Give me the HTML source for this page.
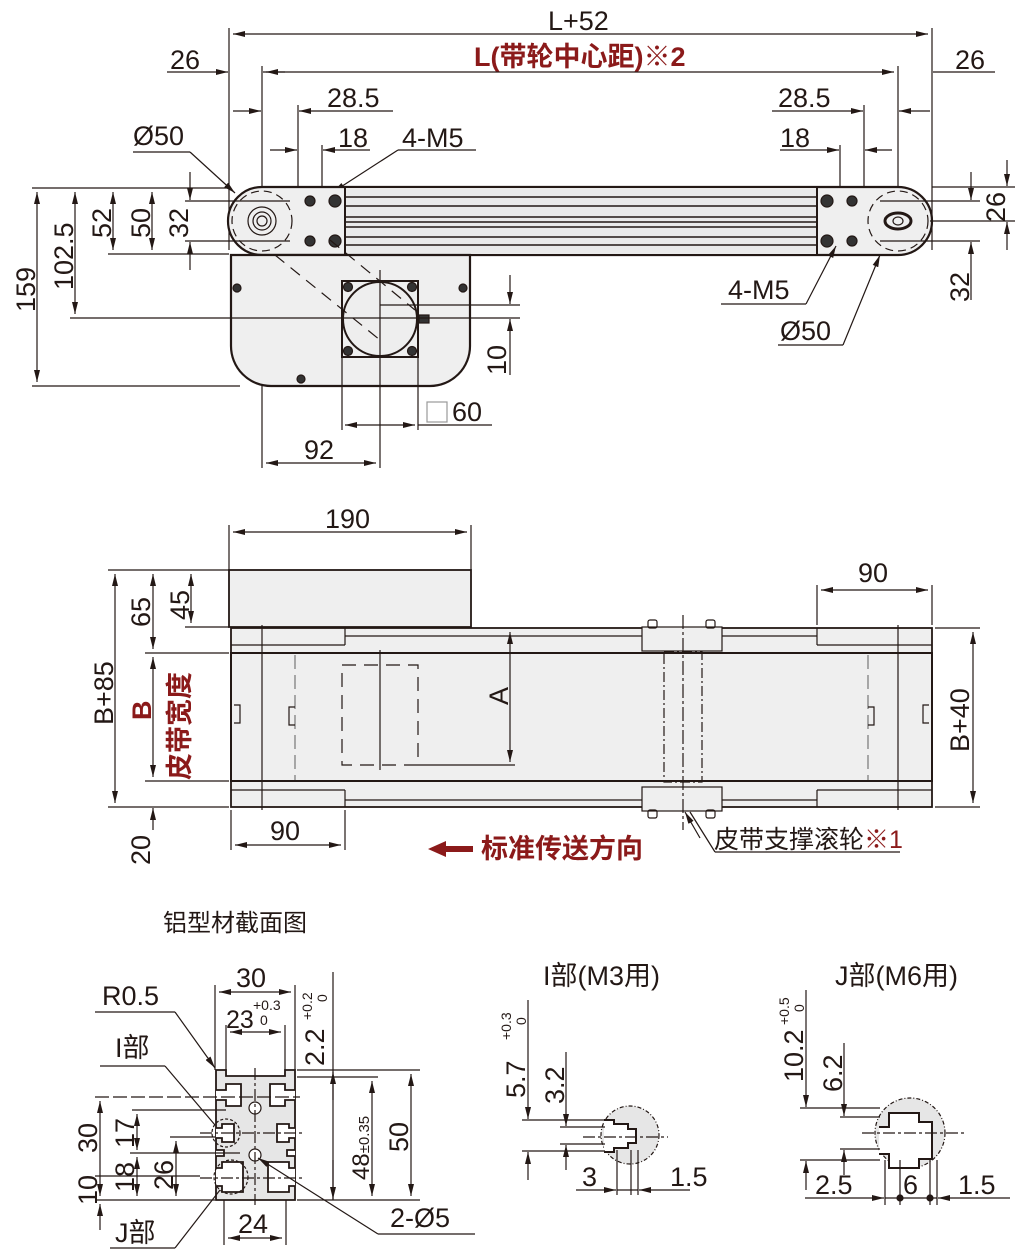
<!DOCTYPE html>
<html><head><meta charset="utf-8"><style>
body{margin:0;background:#fff}
svg{display:block}
text{font-family:"Liberation Sans","Noto Sans CJK SC",sans-serif;fill:#231815;stroke:none}
.d{font-size:27px}
.r{fill:#8b1a1a;font-weight:bold}
</style></head><body>
<svg width="1020" height="1259" viewBox="0 0 1020 1259" xmlns="http://www.w3.org/2000/svg">
<defs>
<marker id="a" viewBox="0 0 12 6" refX="12" refY="3" markerWidth="12" markerHeight="6" orient="auto-start-reverse" markerUnits="userSpaceOnUse"><path d="M0,0L12,3L0,6z" fill="#231815" stroke="none"/></marker>
</defs>
<g stroke="#231815" stroke-width="1.2" fill="none">
<!-- ===== TOP VIEW ===== -->
<line x1="229" y1="28" x2="229" y2="250"/><line x1="932" y1="28" x2="932" y2="250"/>
<line x1="262" y1="66" x2="262" y2="468"/><line x1="898" y1="66" x2="898" y2="250"/>
<line x1="233" y1="34" x2="928" y2="34" marker-start="url(#a)" marker-end="url(#a)"/>
<line x1="266" y1="72" x2="894" y2="72" marker-start="url(#a)" marker-end="url(#a)"/>
<line x1="167" y1="72" x2="228" y2="72" marker-end="url(#a)"/>
<line x1="263" y1="72" x2="285" y2="72"/>
<line x1="933" y1="72" x2="995" y2="72"/>
<line x1="298" y1="105" x2="298" y2="188"/><line x1="322" y1="145" x2="322" y2="188"/>
<line x1="233" y1="111" x2="261" y2="111" marker-end="url(#a)"/>
<line x1="393" y1="111" x2="299" y2="111" marker-end="url(#a)"/>
<line x1="270" y1="150" x2="297" y2="150" marker-end="url(#a)"/>
<line x1="370" y1="150" x2="323" y2="150" marker-end="url(#a)"/>
<text class="d" x="327" y="107">28.5</text><text class="d" x="338" y="147">18</text>
<text class="d" x="402" y="147">4-M5</text>
<line x1="398" y1="150" x2="476" y2="150"/><line x1="398" y1="150" x2="333" y2="192" marker-end="url(#a)"/>
<text class="d" x="133" y="145">Ø50</text>
<line x1="133" y1="152" x2="190" y2="152"/><line x1="190" y1="152" x2="235" y2="193" marker-end="url(#a)"/>
<text class="d" x="170" y="69">26</text><text class="d" x="955" y="69">26</text>
<text class="d" x="548" y="30">L+52</text>
<text class="d r" x="474" y="66">L(带轮中心距)※2</text>
<line x1="864" y1="105" x2="864" y2="188"/><line x1="840" y1="145" x2="840" y2="188"/>
<line x1="772" y1="111" x2="863" y2="111" marker-end="url(#a)"/>
<line x1="930" y1="111" x2="899" y2="111" marker-end="url(#a)"/>
<line x1="780" y1="150" x2="839" y2="150" marker-end="url(#a)"/>
<line x1="892" y1="150" x2="865" y2="150" marker-end="url(#a)"/>
<text class="d" x="778" y="107">28.5</text><text class="d" x="780" y="147">18</text>
<path d="M262,187 H898 A34,34 0 0 1 898,255 H262 A34,34 0 0 1 262,187Z" fill="#efefef" stroke-width="2.2"/>
<rect x="345" y="187" width="472" height="68" fill="#eaeaea" stroke-width="2"/>
<g stroke-width="1.5"><line x1="345" y1="197" x2="817" y2="197"/><line x1="345" y1="206" x2="817" y2="206"/><line x1="345" y1="217" x2="817" y2="217"/><line x1="345" y1="222" x2="817" y2="222"/><line x1="345" y1="227" x2="817" y2="227"/><line x1="345" y1="237" x2="817" y2="237"/><line x1="345" y1="245" x2="817" y2="245"/></g>
<g fill="#333"><circle cx="310" cy="201" r="5"/><circle cx="335" cy="201" r="6"/><circle cx="310" cy="241" r="5"/><circle cx="335" cy="241" r="6"/>
<circle cx="827" cy="201" r="6"/><circle cx="852" cy="201" r="5"/><circle cx="827" cy="241" r="6"/><circle cx="852" cy="241" r="5"/></g>
<circle cx="262" cy="221" r="14"/><circle cx="262" cy="221" r="9"/><circle cx="262" cy="221" r="5"/>
<ellipse cx="898" cy="221" rx="13" ry="8" stroke-width="3"/><ellipse cx="898" cy="221" rx="5" ry="4"/>
<circle cx="262" cy="221" r="30" stroke-dasharray="8 5"/><circle cx="898" cy="221" r="30" stroke-dasharray="8 5"/>
<path d="M231,255 H470 V346 A40,40 0 0 1 430,386 H271 A40,40 0 0 1 231,346Z" fill="#efefef" stroke-width="2.2"/>
<g fill="#333"><circle cx="237" cy="288" r="4"/><circle cx="463" cy="288" r="4"/><circle cx="301" cy="379" r="4"/></g>
<rect x="342" y="281" width="76" height="76" stroke-width="2"/>
<circle cx="380" cy="319" r="37" fill="#eee" stroke-width="2"/>
<g fill="#333"><circle cx="348" cy="287" r="4.5"/><circle cx="412" cy="287" r="4.5"/><circle cx="348" cy="351" r="4.5"/><circle cx="412" cy="351" r="4.5"/></g>
<rect x="419" y="315" width="10" height="8" fill="#333"/>
<line x1="275" y1="255" x2="380" y2="340" stroke-dasharray="12 8"/>
<line x1="330" y1="240" x2="415" y2="310" stroke-dasharray="12 8"/>
<line x1="380" y1="270" x2="380" y2="468"/><line x1="342" y1="357" x2="342" y2="430"/><line x1="418" y1="357" x2="418" y2="430"/>
<line x1="345" y1="425" x2="415" y2="425" marker-start="url(#a)" marker-end="url(#a)"/>
<line x1="418" y1="425" x2="492" y2="425"/>
<rect x="427" y="402" width="20" height="20" stroke="#999"/>
<text class="d" x="452" y="421">60</text>
<line x1="266" y1="463" x2="376" y2="463" marker-start="url(#a)" marker-end="url(#a)"/>
<text class="d" x="304" y="459">92</text>
<line x1="70" y1="318" x2="520" y2="318"/><line x1="380" y1="305" x2="520" y2="305"/>
<line x1="510" y1="275" x2="510" y2="304" marker-end="url(#a)"/><line x1="510" y1="375" x2="510" y2="319" marker-end="url(#a)"/>
<text class="d" transform="translate(506,375) rotate(-90)">10</text>
<line x1="32" y1="188" x2="229" y2="188"/><line x1="32" y1="386" x2="240" y2="386"/>
<line x1="108" y1="254" x2="229" y2="254"/>
<line x1="185" y1="201" x2="290" y2="201"/><line x1="185" y1="241" x2="290" y2="241"/>
<line x1="37" y1="192" x2="37" y2="382" marker-start="url(#a)" marker-end="url(#a)"/>
<line x1="75" y1="192" x2="75" y2="314" marker-start="url(#a)" marker-end="url(#a)"/>
<line x1="113" y1="192" x2="113" y2="250" marker-start="url(#a)" marker-end="url(#a)"/>
<line x1="152" y1="192" x2="152" y2="250" marker-start="url(#a)" marker-end="url(#a)"/>
<line x1="190" y1="172" x2="190" y2="200" marker-end="url(#a)"/><line x1="190" y1="270" x2="190" y2="242" marker-end="url(#a)"/>
<text class="d" transform="translate(35,312) rotate(-90)">159</text>
<text class="d" transform="translate(73,290) rotate(-90)">102.5</text>
<text class="d" transform="translate(111,238) rotate(-90)">52</text>
<text class="d" transform="translate(150,238) rotate(-90)">50</text>
<text class="d" transform="translate(188,238) rotate(-90)">32</text>
<line x1="880" y1="201" x2="980" y2="201"/><line x1="880" y1="241" x2="980" y2="241"/><line x1="932" y1="187" x2="1015" y2="187"/><line x1="930" y1="221" x2="1015" y2="221"/>
<line x1="1007" y1="160" x2="1007" y2="186" marker-end="url(#a)"/><line x1="1007" y1="250" x2="1007" y2="222" marker-end="url(#a)"/>
<line x1="971" y1="172" x2="971" y2="200" marker-end="url(#a)"/><line x1="971" y1="300" x2="971" y2="242" marker-end="url(#a)"/>
<text class="d" transform="translate(1005,222) rotate(-90)">26</text>
<text class="d" transform="translate(969,302) rotate(-90)">32</text>
<text class="d" x="728" y="299">4-M5</text>
<line x1="721" y1="304" x2="806" y2="304"/><line x1="806" y1="304" x2="836" y2="246" marker-end="url(#a)"/>
<text class="d" x="780" y="340">Ø50</text>
<line x1="778" y1="345" x2="843" y2="345"/><line x1="843" y1="345" x2="880" y2="255" marker-end="url(#a)"/>

<!-- ===== MIDDLE VIEW ===== -->
<line x1="229" y1="525" x2="229" y2="570"/><line x1="471" y1="525" x2="471" y2="570"/>
<line x1="233" y1="532" x2="467" y2="532" marker-start="url(#a)" marker-end="url(#a)"/>
<text class="d" x="325" y="528">190</text>
<rect x="229" y="570" width="242" height="57" fill="#efefef" stroke-width="1.8"/>
<rect x="231" y="628" width="701" height="25" fill="#efefef" stroke-width="1.8"/>
<rect x="231" y="781" width="701" height="26" fill="#efefef" stroke-width="1.8"/>
<line x1="345" y1="628" x2="345" y2="645"/><line x1="231" y1="645" x2="345" y2="645"/><line x1="345" y1="636" x2="817" y2="636"/>
<line x1="817" y1="628" x2="817" y2="645"/><line x1="817" y1="645" x2="932" y2="645"/>
<line x1="345" y1="790" x2="345" y2="807"/><line x1="231" y1="790" x2="345" y2="790"/><line x1="345" y1="800" x2="817" y2="800"/>
<line x1="817" y1="790" x2="817" y2="807"/><line x1="817" y1="790" x2="932" y2="790"/>
<rect x="231" y="653" width="701" height="128" fill="#efefef" stroke-width="2"/>
<line x1="262" y1="625" x2="262" y2="810"/><line x1="898" y1="625" x2="898" y2="810"/>
<line x1="295" y1="655" x2="295" y2="780" stroke-dasharray="14 6" stroke="#777"/>
<line x1="868" y1="655" x2="868" y2="780" stroke-dasharray="14 6" stroke="#777"/>
<path d="M234,705 h6 v18 h-6" /><path d="M929,705 h-6 v18 h6"/>
<path d="M295,707 h-6 v18 h6"/><path d="M868,707 h6 v18 h-6"/>
<rect x="342" y="665" width="76" height="100" stroke-dasharray="14 8"/>
<line x1="380" y1="650" x2="380" y2="770"/>
<line x1="418" y1="765" x2="515" y2="765"/>
<line x1="510" y1="632" x2="510" y2="762" marker-start="url(#a)" marker-end="url(#a)"/>
<text class="d" transform="translate(508,705) rotate(-90)">A</text>
<rect x="642" y="627" width="80" height="24" fill="#efefef"/><rect x="642" y="787" width="80" height="24" fill="#efefef"/>
<rect x="648" y="620" width="9" height="8" rx="2"/><rect x="706" y="620" width="9" height="8" rx="2"/>
<rect x="648" y="810" width="9" height="8" rx="2"/><rect x="706" y="810" width="9" height="8" rx="2"/>
<rect x="664" y="652" width="38" height="130" stroke-dasharray="10 3 2 3"/>
<line x1="683" y1="615" x2="683" y2="830" stroke-dasharray="14 3 3 3"/>
<line x1="690" y1="812" x2="715" y2="852"/><line x1="715" y1="852" x2="900" y2="852"/>
<line x1="700" y1="838" x2="685" y2="812" marker-end="url(#a)"/>
<text x="714" y="848" style="font-size:25px">皮带支撑滚轮<tspan style="fill:#8b1a1a">※1</tspan></text>
<line x1="817" y1="585" x2="817" y2="625"/><line x1="932" y1="585" x2="932" y2="625"/>
<line x1="821" y1="590" x2="928" y2="590" marker-start="url(#a)" marker-end="url(#a)"/>
<text class="d" x="858" y="582">90</text>
<line x1="935" y1="628" x2="980" y2="628"/><line x1="935" y1="807" x2="980" y2="807"/>
<line x1="973" y1="632" x2="973" y2="803" marker-start="url(#a)" marker-end="url(#a)"/>
<text class="d" transform="translate(969,752) rotate(-90)">B+40</text>
<line x1="231" y1="810" x2="231" y2="850"/><line x1="345" y1="810" x2="345" y2="850"/>
<line x1="235" y1="845" x2="341" y2="845" marker-start="url(#a)" marker-end="url(#a)"/>
<text class="d" x="270" y="840">90</text>
<line x1="108" y1="570" x2="229" y2="570"/><line x1="145" y1="653" x2="229" y2="653"/><line x1="145" y1="781" x2="229" y2="781"/><line x1="108" y1="807" x2="229" y2="807"/><line x1="185" y1="627" x2="229" y2="627"/>
<line x1="115" y1="574" x2="115" y2="803" marker-start="url(#a)" marker-end="url(#a)"/>
<line x1="153" y1="574" x2="153" y2="649" marker-start="url(#a)" marker-end="url(#a)"/>
<line x1="153" y1="657" x2="153" y2="777" marker-start="url(#a)" marker-end="url(#a)"/>
<line x1="153" y1="830" x2="153" y2="808" marker-end="url(#a)"/>
<line x1="191" y1="574" x2="191" y2="623" marker-start="url(#a)" marker-end="url(#a)"/>
<text class="d" transform="translate(113,725) rotate(-90)">B+85</text>
<text class="d" transform="translate(150,627) rotate(-90)">65</text>
<text class="d" transform="translate(189,620) rotate(-90)">45</text>
<text class="d" transform="translate(150,865) rotate(-90)">20</text>
<text class="d r" transform="translate(151,720) rotate(-90)">B</text>
<text class="d r" transform="translate(189,780) rotate(-90)">皮带宽度</text>
<path d="M428,849 L446,841 V846 H473 V852 H446 V857Z" fill="#8b1a1a" stroke="none"/>
<text class="r" x="481" y="858" style="font-size:27px">标准传送方向</text>

<!-- ===== CROSS SECTION ===== -->
<text x="163" y="931" style="font-size:24px">铝型材截面图</text>
<line x1="215" y1="985" x2="215" y2="1070"/><line x1="295" y1="985" x2="295" y2="1070"/>
<line x1="219" y1="992" x2="291" y2="992" marker-start="url(#a)" marker-end="url(#a)"/>
<text class="d" x="236" y="987">30</text>
<line x1="226" y1="1025" x2="226" y2="1076"/><line x1="285" y1="1025" x2="285" y2="1076"/>
<line x1="230" y1="1032" x2="281" y2="1032" marker-start="url(#a)" marker-end="url(#a)"/>
<text x="226" y="1028" style="font-size:25px">23</text><text x="253" y="1010" style="font-size:14px">+0.3</text><text x="260" y="1025" style="font-size:14px">0</text>
<text class="d" transform="translate(324,1066) rotate(-90)">2.2</text>
<text transform="translate(312,1020) rotate(-90)" style="font-size:14px">+0.2</text><text transform="translate(327,1002) rotate(-90)" style="font-size:14px">0</text>
<line x1="333" y1="972" x2="333" y2="1200"/>
<line x1="333" y1="1100" x2="333" y2="1072" marker-end="url(#a)"/>
<line x1="333" y1="1160" x2="333" y2="1199" marker-end="url(#a)"/>
<line x1="297" y1="1070" x2="420" y2="1070"/><line x1="297" y1="1077" x2="378" y2="1077"/><line x1="297" y1="1200" x2="420" y2="1200"/>
<line x1="372" y1="1081" x2="372" y2="1196" marker-start="url(#a)" marker-end="url(#a)"/>
<line x1="411" y1="1074" x2="411" y2="1196" marker-start="url(#a)" marker-end="url(#a)"/>
<text class="d" transform="translate(408,1152) rotate(-90)">50</text>
<text transform="translate(369,1180) rotate(-90)" style="font-size:24px">48<tspan style="font-size:15px">±0.35</tspan></text>
<!-- profile -->
<path d="M216,1070 H226 V1076 H285 V1070 H295 V1200 H216Z" fill="#e6e6e6" stroke-width="1.8"/>
<g fill="#fff" stroke-width="1.8">
<path d="M216,1090 H226 V1084 H241 V1106 H226 V1100 H216"/>
<path d="M295,1090 H285 V1084 H270 V1106 H285 V1100 H295"/>
<path d="M216,1128 H222 V1124 H234 V1142 H222 V1138 H216"/>
<path d="M295,1128 H289 V1124 H277 V1142 H289 V1138 H295"/>
<path d="M216,1168 H222 V1162 H243 V1192 H222 V1186 H216"/>
<path d="M295,1168 H289 V1162 H268 V1192 H289 V1186 H295"/>
<path d="M216,1150 H224 V1156 H216"/><path d="M295,1150 H287 V1156 H295"/>
</g>
<circle cx="255" cy="1108" r="6" fill="#fff"/><circle cx="255" cy="1155" r="6" fill="#fff"/>
<line x1="255" y1="1068" x2="255" y2="1205" stroke-dasharray="12 3 3 3"/>
<line x1="200" y1="1133" x2="305" y2="1133" stroke-dasharray="12 3 3 3"/>
<line x1="200" y1="1178" x2="305" y2="1178" stroke-dasharray="12 3 3 3"/>
<line x1="95" y1="1097" x2="300" y2="1097" stroke-dasharray="14 4"/>
<circle cx="226" cy="1133" r="14" stroke-dasharray="3 2"/>
<circle cx="231" cy="1177" r="17" stroke-dasharray="3 2"/>
<line x1="132" y1="1110" x2="226" y2="1110"/><line x1="95" y1="1200" x2="215" y2="1200"/><line x1="170" y1="1137" x2="215" y2="1137"/><line x1="95" y1="1176" x2="200" y2="1176"/><line x1="130" y1="1153" x2="240" y2="1153"/>
<line x1="100" y1="1101" x2="100" y2="1196" marker-start="url(#a)" marker-end="url(#a)"/>
<line x1="100" y1="1230" x2="100" y2="1204" marker-end="url(#a)"/>
<line x1="137" y1="1114" x2="137" y2="1150" marker-start="url(#a)" marker-end="url(#a)"/>
<line x1="137" y1="1157" x2="137" y2="1196" marker-start="url(#a)" marker-end="url(#a)"/>
<line x1="176" y1="1141" x2="176" y2="1196" marker-start="url(#a)" marker-end="url(#a)"/>
<text class="d" transform="translate(97,1153) rotate(-90)">30</text>
<text class="d" transform="translate(97,1205) rotate(-90)">10</text>
<text class="d" transform="translate(134,1148) rotate(-90)">17</text>
<text class="d" transform="translate(134,1192) rotate(-90)">18</text>
<text class="d" transform="translate(173,1190) rotate(-90)">26</text>
<line x1="224" y1="1200" x2="224" y2="1245"/><line x1="286" y1="1200" x2="286" y2="1245"/>
<line x1="228" y1="1238" x2="282" y2="1238" marker-start="url(#a)" marker-end="url(#a)"/>
<text class="d" x="238" y="1233">24</text>
<text class="d" x="102" y="1005">R0.5</text>
<line x1="95" y1="1012" x2="175" y2="1012"/><line x1="175" y1="1012" x2="215" y2="1068" marker-end="url(#a)"/>
<text class="d" x="115" y="1057">I部</text>
<line x1="100" y1="1066" x2="165" y2="1066"/><line x1="165" y1="1066" x2="215" y2="1125"/>
<text class="d" x="115" y="1242">J部</text>
<line x1="110" y1="1248" x2="175" y2="1248"/><line x1="175" y1="1248" x2="220" y2="1190"/>
<text class="d" x="390" y="1227">2-Ø5</text>
<line x1="378" y1="1234" x2="475" y2="1234"/><line x1="378" y1="1234" x2="258" y2="1158" marker-end="url(#a)"/>

<!-- I detail -->
<text x="543" y="985" style="font-size:27px">I部(M3用)</text>
<circle cx="630" cy="1135" r="29" fill="#e6e6e6" stroke-dasharray="4 2 1 2"/>
<path d="M604,1120 h10 v4 h14 v5 h8 v14 h-8 v5 h-14 v4 h-10" stroke-width="2" fill="#fff"/>
<line x1="583" y1="1137" x2="668" y2="1137" stroke-dasharray="12 3 3 3"/>
<line x1="522" y1="1120" x2="605" y2="1120"/><line x1="522" y1="1151" x2="605" y2="1151"/>
<line x1="560" y1="1127" x2="605" y2="1127"/><line x1="560" y1="1144" x2="605" y2="1144"/>
<line x1="528" y1="1000" x2="528" y2="1119" marker-end="url(#a)"/><line x1="528" y1="1180" x2="528" y2="1152" marker-end="url(#a)"/>
<line x1="566" y1="1052" x2="566" y2="1126" marker-end="url(#a)"/><line x1="566" y1="1170" x2="566" y2="1145" marker-end="url(#a)"/>
<text class="d" transform="translate(525,1098) rotate(-90)">5.7</text>
<text transform="translate(511,1040) rotate(-90)" style="font-size:14px">+0.3</text><text transform="translate(526,1025) rotate(-90)" style="font-size:14px">0</text>
<text class="d" transform="translate(564,1104) rotate(-90)">3.2</text>
<line x1="617" y1="1150" x2="617" y2="1195"/><line x1="631" y1="1150" x2="631" y2="1195"/><line x1="638" y1="1150" x2="638" y2="1195"/>
<line x1="576" y1="1190" x2="616" y2="1190" marker-end="url(#a)"/><line x1="690" y1="1190" x2="639" y2="1190" marker-end="url(#a)"/><line x1="617" y1="1190" x2="638" y2="1190"/>
<text class="d" x="582" y="1186">3</text><text class="d" x="670" y="1186">1.5</text>

<!-- J detail -->
<text x="835" y="985" style="font-size:27px">J部(M6用)</text>
<circle cx="910" cy="1133" r="35" fill="#e6e6e6" stroke-dasharray="4 2 1 2"/>
<path d="M879,1127 h10 v-14 h30 v9 h13 v37 h-13 v9 h-30 v-14 h-10" stroke-width="2" fill="#fff"/>
<line x1="862" y1="1133" x2="965" y2="1133" stroke-dasharray="12 3 3 3"/>
<line x1="800" y1="1108" x2="880" y2="1108"/><line x1="800" y1="1160" x2="880" y2="1160"/>
<line x1="840" y1="1117" x2="880" y2="1117"/><line x1="840" y1="1149" x2="880" y2="1149"/>
<line x1="806" y1="990" x2="806" y2="1107" marker-end="url(#a)"/><line x1="806" y1="1190" x2="806" y2="1161" marker-end="url(#a)"/>
<line x1="844" y1="1043" x2="844" y2="1116" marker-end="url(#a)"/><line x1="844" y1="1175" x2="844" y2="1150" marker-end="url(#a)"/>
<text class="d" transform="translate(803,1082) rotate(-90)">10.2</text>
<text transform="translate(789,1025) rotate(-90)" style="font-size:14px">+0.5</text><text transform="translate(804,1012) rotate(-90)" style="font-size:14px">0</text>
<text class="d" transform="translate(842,1092) rotate(-90)">6.2</text>
<line x1="885" y1="1160" x2="885" y2="1205"/><line x1="900" y1="1160" x2="900" y2="1205"/><line x1="930" y1="1160" x2="930" y2="1205"/><line x1="937" y1="1160" x2="937" y2="1205"/>
<line x1="805" y1="1198" x2="884" y2="1198" marker-end="url(#a)"/><line x1="1010" y1="1198" x2="938" y2="1198" marker-end="url(#a)"/><line x1="885" y1="1198" x2="937" y2="1198"/>
<circle cx="900" cy="1198" r="3" fill="#231815"/><circle cx="930" cy="1198" r="3" fill="#231815"/>
<text class="d" x="815" y="1194">2.5</text><text class="d" x="903" y="1194">6</text><text class="d" x="958" y="1194">1.5</text>
</g>
</svg>
</body></html>
